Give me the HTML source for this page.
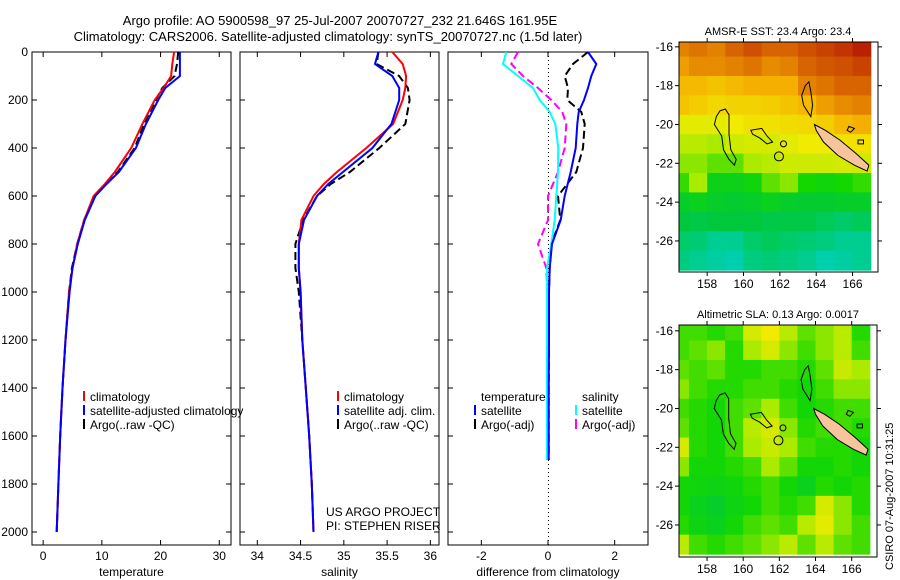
<!DOCTYPE html>
<html><head><meta charset="utf-8"><style>
html,body{margin:0;padding:0;background:#fff;}
svg{display:block;font-family:"Liberation Sans",sans-serif;}
text{font-size:12px;fill:#000;}
</style></head><body>
<svg id="fig" width="900" height="580" viewBox="0 0 900 580">
<text x="340" y="25" text-anchor="middle" style="font-size:13px">Argo profile: AO 5900598_97 25-Jul-2007 20070727_232 21.646S 161.95E</text>
<text x="328" y="41" text-anchor="middle" style="font-size:13px">Climatology: CARS2006. Satellite-adjusted climatology: synTS_20070727.nc (1.5d later)</text>
<text x="778" y="35" text-anchor="middle" style="font-size:11px">AMSR-E SST: 23.4 Argo: 23.4</text>
<text x="778" y="318" text-anchor="middle" style="font-size:11px">Altimetric SLA: 0.13 Argo: 0.0017</text>
<text transform="translate(893,570) rotate(-90)" style="font-size:11px">CSIRO 07-Aug-2007 10:31:25</text>
</svg>
<script>
// ---- profile data ----
const depths = [0,50,100,150,200,300,400,500,550,600,700,800,900,1000,1200,1400,1600,1800,2000];
const tempClim = [22.3,22.0,21.8,20.5,19.0,16.9,15.0,12.2,10.5,8.6,7.0,5.8,5.0,4.4,3.8,3.3,2.9,2.6,2.3];
const tempSat  = [23.3,23.3,23.3,20.8,19.6,17.5,15.8,12.9,10.8,8.9,7.1,5.9,5.0,4.5,3.8,3.3,2.9,2.6,2.3];
const tempArgo = [23.0,22.8,22.4,20.3,19.2,17.2,15.6,12.7,10.7,8.8,7.0,5.8,4.9,4.4,3.8,3.3,2.9,2.6,2.3];
const salClim = [35.56,35.68,35.72,35.71,35.68,35.57,35.26,34.92,34.77,34.65,34.51,34.48,34.48,34.5,34.52,34.56,34.6,34.63,34.65];
const salSat  = [35.4,35.36,35.56,35.64,35.64,35.55,35.33,34.99,34.82,34.69,34.54,34.48,34.48,34.5,34.52,34.56,34.6,34.63,34.65];
const salArgo = [35.4,35.38,35.64,35.74,35.76,35.71,35.41,35.07,34.85,34.69,34.53,34.44,34.44,34.48,34.52,34.56,34.6,34.63,34.65];
const diffDepths = [0,50,100,150,200,250,300,400,500,600,700,800,900,1000,1200,1400,1600,1700];
const diffTempSat  = [1.2,1.45,1.3,1.2,1.08,0.92,0.88,0.83,0.68,0.5,0.38,0.12,0.05,0.03,0.03,0.02,0.02,0.02];
const diffTempArgo = [1.2,0.75,0.5,0.6,0.58,1.0,1.1,1.05,0.85,0.3,0.37,0.1,0.05,0.03,0.03,0.02,0.02,0.02];
const diffSalSat   = [-1.25,-1.35,-0.9,-0.45,-0.25,0.05,0.22,0.31,0.3,0.25,0.2,0.1,-0.03,-0.03,-0.03,-0.03,-0.03,-0.03];
const diffSalArgo  = [-0.9,-1.1,-0.75,-0.3,0.1,0.43,0.55,0.5,0.3,0.0,0.0,-0.3,-0.05,-0.02,-0.02,-0.02,-0.02,-0.02];
const depthTicks = [0,200,400,600,800,1000,1200,1400,1600,1800,2000];
const tempTicks = [0,10,20,30];
const salTicks = [34,34.5,35,35.5,36];
const diffTicks = [-2,0,2];
// ---- map data (1-degree cells, rows from -16 to -27, cols lon 156.5..166.5), normalised colour index ----
const mapLats = [-16,-17,-18,-19,-20,-21,-22,-23,-24,-25,-26,-27];
const mapLons = [156.5,157.5,158.5,159.5,160.5,161.5,162.5,163.5,164.5,165.5,166.5];
const sstVals = [
[0.8,0.82,0.8,0.85,0.88,0.85,0.85,0.88,0.9,0.92,0.95],
[0.75,0.78,0.78,0.8,0.82,0.78,0.8,0.85,0.87,0.88,0.9],
[0.7,0.7,0.68,0.7,0.72,0.72,0.72,0.8,0.82,0.85,0.85],
[0.68,0.66,0.64,0.65,0.65,0.66,0.68,0.7,0.75,0.78,0.8],
[0.58,0.58,0.58,0.6,0.62,0.62,0.63,0.64,0.66,0.7,0.72],
[0.52,0.52,0.5,0.55,0.56,0.56,0.58,0.6,0.6,0.62,0.62],
[0.48,0.48,0.45,0.45,0.5,0.52,0.55,0.55,0.55,0.56,0.55],
[0.42,0.5,0.36,0.36,0.38,0.45,0.48,0.4,0.38,0.4,0.42],
[0.33,0.35,0.33,0.32,0.33,0.35,0.33,0.32,0.32,0.33,0.33],
[0.3,0.28,0.3,0.3,0.3,0.28,0.28,0.28,0.25,0.22,0.25],
[0.22,0.2,0.15,0.15,0.22,0.25,0.22,0.2,0.18,0.15,0.15],
[0.18,0.15,0.12,0.1,0.18,0.2,0.18,0.15,0.1,0.12,0.15]];
const slaVals = [
[0.43,0.43,0.41,0.43,0.56,0.6,0.52,0.45,0.48,0.52,0.41],
[0.43,0.45,0.48,0.41,0.5,0.56,0.48,0.43,0.48,0.52,0.43],
[0.45,0.43,0.45,0.41,0.41,0.43,0.43,0.41,0.45,0.54,0.5],
[0.48,0.43,0.41,0.41,0.43,0.43,0.41,0.39,0.43,0.48,0.48],
[0.43,0.41,0.39,0.43,0.45,0.5,0.43,0.39,0.41,0.43,0.43],
[0.45,0.41,0.39,0.43,0.52,0.56,0.48,0.41,0.43,0.43,0.41],
[0.56,0.41,0.39,0.43,0.5,0.54,0.5,0.43,0.41,0.41,0.39],
[0.48,0.39,0.39,0.41,0.43,0.5,0.45,0.39,0.39,0.41,0.39],
[0.39,0.38,0.37,0.38,0.41,0.43,0.39,0.35,0.41,0.39,0.41],
[0.39,0.35,0.33,0.37,0.39,0.43,0.41,0.43,0.56,0.48,0.41],
[0.41,0.37,0.35,0.39,0.43,0.45,0.43,0.52,0.58,0.48,0.43],
[0.52,0.43,0.41,0.43,0.45,0.48,0.52,0.45,0.52,0.45,0.43]];
const lonTicks = [158,160,162,164,166];
const latTicks = [-16,-18,-20,-22,-24,-26];

const NS='http://www.w3.org/2000/svg';
const svg=document.getElementById('fig');
function mk(tag,attrs,parent){const e=document.createElementNS(NS,tag);for(const k in attrs)e.setAttribute(k,attrs[k]);(parent||svg).appendChild(e);return e;}
function txt(x,y,s,anchor,parent,size){const t=mk('text',{x:x,y:y,'text-anchor':anchor||'start'},parent);if(size)t.style.fontSize=size+'px';t.textContent=s;return t;}

const TOP=52,BOT=545;
const yD=d=>TOP+d*0.24;
const panels=[
 {name:'temperature',L:32,R:231,x0:-1.9,x1:32,ticks:tempTicks,label:'temperature'},
 {name:'salinity',L:240,R:439,x0:33.8,x1:36.1,ticks:salTicks,label:'salinity'},
 {name:'difference',L:448,R:648,x0:-3.0,x1:3.0,ticks:diffTicks,label:'difference from climatology'}];
panels.forEach((p,i)=>{
 p.x=v=>p.L+(v-p.x0)/(p.x1-p.x0)*(p.R-p.L);
 const g=mk('g',{});
 
 
 const fr=mk('rect',{x:p.L,y:TOP,width:p.R-p.L,height:BOT-TOP,fill:'#fff',stroke:'#000','stroke-width':1},g);
 
 
 p.ticks.forEach(t=>{const x=p.x(t);
  mk('line',{x1:x,y1:TOP,x2:x,y2:TOP+5,stroke:'#000'},g);mk('line',{x1:x,y1:BOT,x2:x,y2:BOT-5,stroke:'#000'},g);
  const tl=txt(x,BOT+15,String(t),'middle',g);
  
  });
 depthTicks.forEach(d=>{const y=yD(d);
  mk('line',{x1:p.L,y1:y,x2:p.L+5,y2:y,stroke:'#000'},g);mk('line',{x1:p.R,y1:y,x2:p.R-5,y2:y,stroke:'#000'},g);
  if(i===0){const tl=txt(p.L-4,y+4,String(d),'end',g);
   
   }});
 const xl=txt((p.L+p.R)/2,BOT+31,p.label,'middle',g);
 
 
});
// zero line diff
const P3=panels[2];
for(let y=TOP;y<BOT;y+=4){mk('rect',{x:P3.x(0),y:y,width:1,height:1,fill:'#000'});}
function line(p,xs,ds,color,name,dash,w){
 const pts=xs.map((v,i)=>p.x(v).toFixed(1)+','+yD(ds[i]).toFixed(1)).join(' ');
 const e=mk('polyline',{points:pts,fill:'none',stroke:color,'stroke-width':w||2});
 if(dash)e.setAttribute('stroke-dasharray',dash);
 
 
}
line(panels[0],tempArgo,depths,'#000','temp-argo-line','8,4');
line(panels[0],tempClim,depths,'#f00','temp-climatology-line');
line(panels[0],tempSat,depths,'#00f','temp-satellite-line');
line(panels[1],salArgo,depths,'#000','sal-argo-line','8,4');
line(panels[1],salClim,depths,'#f00','sal-climatology-line');
line(panels[1],salSat,depths,'#00f','sal-satellite-line');
line(P3,diffTempArgo,diffDepths,'#000','diff-temp-argo-line','8,4');
line(P3,diffSalArgo,diffDepths,'#f0f','diff-sal-argo-line','8,4');
line(P3,diffSalSat,diffDepths,'#0ff','diff-sal-satellite-line');
line(P3,diffTempSat,diffDepths,'#00f','diff-temp-satellite-line');

function legend(x,y,items,name){
 const g=mk('g',{});
 
 
 items.forEach((it,i)=>{const yy=y+i*14;
  if(it[1])mk('rect',{x:x,y:yy-10,width:2,height:10,fill:it[1]},g);
  const t=txt(x+7,yy,it[0],'start',g);
  
  });
}
legend(83,401,[['climatology','#f00'],['satellite-adjusted climatology','#00f'],['Argo(..raw -QC)','#000']],'temperature-legend');
legend(337,401,[['climatology','#f00'],['satellite adj. clim.','#00f'],['Argo(..raw -QC)','#000']],'salinity-legend');
legend(474,401,[['temperature',null],['satellite','#00f'],['Argo(-adj)','#000']],'diff-temp-legend');
legend(575,401,[['salinity',null],['satellite','#0ff'],['Argo(-adj)','#f0f']],'diff-sal-legend');
const pi=mk('g',{});


txt(326,516,'US ARGO PROJECT','start',pi);txt(326,530,'PI: STEPHEN RISER','start',pi);

// ---- colour map ----
const stops=[[0,[0,210,230]],[0.3,[0,200,60]],[0.4,[20,215,0]],[0.5,[170,235,0]],[0.6,[240,235,0]],[0.72,[245,175,0]],[0.85,[215,100,0]],[1,[170,0,0]]];
function cmap(v){for(let i=1;i<stops.length;i++){if(v<=stops[i][0]){const a=stops[i-1],b=stops[i];const f=(v-a[0])/(b[0]-a[0]);return 'rgb('+a[1].map((c,k)=>Math.round(c+(b[1][k]-c)*f)).join(',')+')';}}return 'rgb(170,0,0)';}

function mapPanel(name,vals,L,R,T,B,latTop,latBot){
 const lon0=156.45,lon1=167.4;
 const X=lo=>L+(lo-lon0)/(lon1-lon0)*(R-L);
 const Y=la=>T+(latTop-la)/(latTop-latBot)*(B-T);
 const g=mk('g',{});
 
 
 mapLats.forEach((la,r)=>mapLons.forEach((lo,c)=>{
  const x1=Math.max(L,X(lo-0.5)),x2=Math.min(R,X(lo+0.5)),y1=Math.max(T,Y(la+0.5)),y2=Math.min(B,Y(la-0.5));
  const cell=mk('rect',{x:x1,y:y1,width:x2-x1+0.6,height:y2-y1+0.6,fill:cmap(vals[r][c])},g);
  
  }));
 const P=(pts)=>pts.map(p=>X(p[0]).toFixed(1)+','+Y(p[1]).toFixed(1)).join(' ');
 mk('polygon',{points:P([[158.7,-19.3],[159.0,-19.2],[159.2,-19.5],[159.2,-20.5],[159.3,-21.3],[159.6,-21.8],[159.5,-22.1],[159.2,-21.8],[158.9,-21.3],[158.8,-20.6],[158.4,-20.0],[158.5,-19.6]]),fill:'none',stroke:'#000','stroke-width':1},g);
 mk('polygon',{points:P([[160.4,-20.3],[161.0,-20.2],[161.3,-20.6],[161.6,-20.9],[161.3,-21.0],[160.9,-20.7],[160.5,-20.5]]),fill:'none',stroke:'#000','stroke-width':1},g);
 mk('polygon',{points:P([[163.4,-18.0],[163.6,-17.8],[163.7,-18.3],[163.8,-19.0],[163.7,-19.6],[163.3,-19.0],[163.2,-18.5]]),fill:'none',stroke:'#000','stroke-width':1},g);
 mk('polygon',{points:P([[163.9,-20.0],[164.5,-20.3],[165.3,-20.8],[166.2,-21.5],[166.9,-22.1],[166.8,-22.4],[166.1,-22.1],[165.2,-21.6],[164.4,-20.9],[164.0,-20.3]]),fill:'#f8c49c',stroke:'#000','stroke-width':1},g);
 mk('polygon',{points:P([[165.8,-20.1],[166.1,-20.2],[165.9,-20.4],[165.7,-20.3]]),fill:'none',stroke:'#000','stroke-width':1},g);
 mk('polygon',{points:P([[166.3,-20.8],[166.6,-20.8],[166.6,-21.0],[166.3,-21.0]]),fill:'none',stroke:'#000','stroke-width':1},g);
 mk('circle',{cx:X(162.2),cy:Y(-21.0),r:3,fill:'none',stroke:'#000'},g);
 mk('circle',{cx:X(161.95),cy:Y(-21.646),r:4.5,fill:'none',stroke:'#000'},g);
 mk('rect',{x:L,y:T,width:R-L,height:B-T,fill:'none',stroke:'#000'},g);
 lonTicks.forEach(lo=>{const x=X(lo);mk('line',{x1:x,y1:B,x2:x,y2:B+4,stroke:'#000'},g);mk('line',{x1:x,y1:T,x2:x,y2:T-4,stroke:'#000'},g);
  const t=txt(x,B+16,String(lo),'middle',g);
  
  });
 latTicks.forEach(la=>{const y=Y(la);mk('line',{x1:L,y1:y,x2:L-4,y2:y,stroke:'#000'},g);mk('line',{x1:R,y1:y,x2:R+4,y2:y,stroke:'#000'},g);
  const t=txt(L-6,y+4,String(la),'end',g);
  
  });
}
mapPanel('sst',sstVals,679,878,42,272,-15.75,-27.6);
mapPanel('sla',slaVals,679,877,325,557,-15.7,-27.65);
</script>
</body></html>
